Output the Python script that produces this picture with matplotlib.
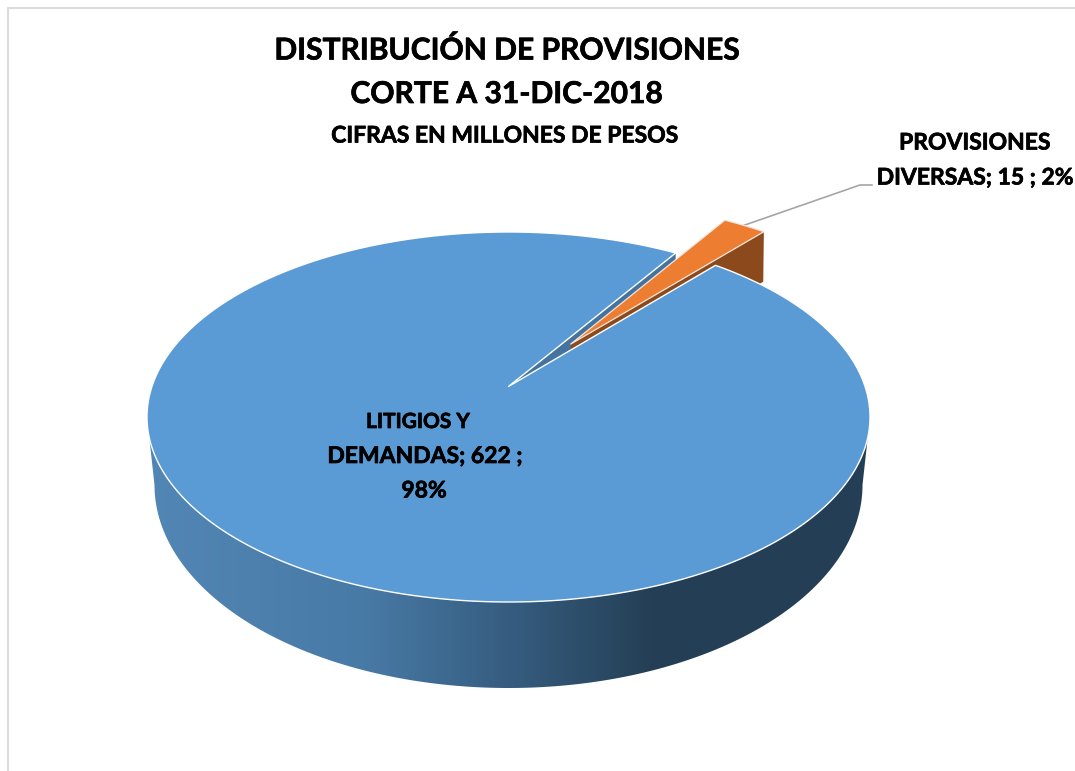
import numpy as np
import matplotlib
matplotlib.use("Agg")
import matplotlib.pyplot as plt
import matplotlib.patheffects as pe
from matplotlib.colors import LinearSegmentedColormap
from matplotlib.patches import Polygon

# ---- data ----
categories = ["LITIGIOS Y DEMANDAS", "PROVISIONES DIVERSAS"]
values = [622, 15]
percent_labels = ["98%", "2%"]
title_lines = ["DISTRIBUCIÓN DE PROVISIONES", "CORTE A 31-DIC-2018"]
subtitle = "CIFRAS EN MILLONES DE PESOS"

# ---- style / view geometry ----
FONT = "Lato"
BLUE, BLUE_WALL = "#5b9bd5", "#44739f"
ORANGE, BROWN = "#ed7d31", "#8c4a1c"
START_DEG = 32.3          # clockwise from the back of the pie
EXPLODE = 0.305
TOP = dict(cx=508.5, cy=417.0, rx=361.5, ry=185.0, e=0.165)
BOT = dict(cx=508.5, cy=485.0, rx=354.0, ry=203.0, e=0.147)

fig = plt.figure(figsize=(10.75, 7.71), dpi=100, facecolor="white")
ax = fig.add_axes([0, 0, 1, 1])


def project(X, Y, g):
    """Perspective view of a point of the unit disc onto the screen ellipse g."""
    X, Y = np.asarray(X, float), np.asarray(Y, float)
    d = 1 + g["e"] * Y
    u = X * np.sqrt(1 - g["e"] ** 2) / d
    v = (Y + g["e"]) / d
    return g["cx"] + g["rx"] * u, g["cy"] - g["ry"] * v


def pts(X, Y, g):
    x, y = project(X, Y, g)
    return np.column_stack([np.atleast_1d(x), np.atleast_1d(y)])


def arc(a0, a1, n=300):
    t = np.radians(np.linspace(a0, a1, n))
    return np.sin(t), np.cos(t)


total = sum(values)
sweep = [360 * v / total for v in values]
a_small0 = START_DEG
a_small1 = START_DEG + sweep[1]
a_mid = np.radians((a_small0 + a_small1) / 2)
ox, oy = EXPLODE * np.sin(a_mid), EXPLODE * np.cos(a_mid)


def ellipse_front(g, a, b, n=400):
    t = np.radians(np.linspace(a, b, n))
    return np.column_stack([g["cx"] + g["rx"] * np.cos(t), g["cy"] + g["ry"] * np.sin(t)])


# curved front wall with horizontal shading, clipped to the pie outline
wall_outline = np.vstack([ellipse_front(TOP, 180, 0), ellipse_front(BOT, 0, 180)])
wall_patch = Polygon(wall_outline, closed=True, fc="none", ec="none")
ax.add_patch(wall_patch)
cmap = LinearSegmentedColormap.from_list(
    "wall",
    [(0.00, "#5286b4"), (0.30, "#487aa6"), (0.52, "#345a7c"), (0.70, "#243f55"), (1.00, "#243f55")],
)
grad = np.linspace(0, 1, 512)[None, :]
im = ax.imshow(grad, cmap=cmap, extent=(147, 870, 700, 400), aspect="auto", zorder=1,
               interpolation="bilinear")
im.set_clip_path(wall_patch)

# cut face of the large slice, seen through the gap
ex0, ey0 = arc(a_small0, a_small0, 1)
face = np.vstack([pts(0, 0, TOP), pts(ex0, ey0, TOP), pts(ex0, ey0, BOT), pts(0, 0, BOT)])
ax.add_patch(Polygon(face, closed=True, fc=BLUE_WALL, ec="none", zorder=2))

# leader line
ax.plot([742, 860, 872], [226, 185, 185], color="#a6a6a6", lw=1.2, zorder=2.5)

# exploded small slice: side wall and top
ex1, ey1 = arc(a_small1, a_small1, 1)
side = np.vstack([pts(ox, oy, TOP), pts(ex1 + ox, ey1 + oy, TOP),
                  pts(ex1 + ox, ey1 + oy, BOT), pts(ox, oy, BOT)])
ax.add_patch(Polygon(side, closed=True, fc=BROWN, ec="none", zorder=3))
ax_, ay_ = arc(a_small0, a_small1, 40)
small_top = np.vstack([pts(ox, oy, TOP), pts(ax_ + ox, ay_ + oy, TOP)])
ax.add_patch(Polygon(small_top, closed=True, fc=ORANGE, ec="#f4e6dc", lw=0.9,
                     joinstyle="round", zorder=4))

# top of the large slice
bx, by = arc(a_small1, a_small0 + 360, 700)
main_top = np.vstack([pts(0, 0, TOP), pts(bx, by, TOP)])
ax.add_patch(Polygon(main_top, closed=True, fc=BLUE, ec="white", lw=1.0,
                     joinstyle="round", zorder=5))

# frame fragments of the screenshot
ax.plot([8, 8, 1075], [771, 8, 8], color="#dcdcdc", lw=1.5, zorder=0)

# texts
bold = [pe.withStroke(linewidth=0.5, foreground="black")]
tkw = dict(family=FONT, weight="bold", color="black", ha="center", va="center",
           zorder=6, path_effects=bold)
ax.text(506.5, 50, title_lines[0], fontsize=21.6, **tkw)
ax.text(506.5, 94, title_lines[1], fontsize=21.6, **tkw)
ax.text(505, 136, subtitle, fontsize=16.5, **tkw)

w0 = categories[0].split(" ")
ax.text(418, 422, " ".join(w0[:2]), fontsize=15, **tkw)
ax.text(425, 456.5, f"{w0[2]}; {values[0]} ;", fontsize=16.5, **tkw)
ax.text(424, 491, percent_labels[0], fontsize=16.5, **tkw)
w1 = categories[1].split(" ")
ax.text(975, 143, w1[0], fontsize=16.5, **tkw)
ax.text(975, 178, f"{w1[1]}; {values[1]} ; {percent_labels[1]}", fontsize=16.5, **tkw)

ax.set_xlim(0, 1075)
ax.set_ylim(771, 0)
ax.axis("off")
fig.savefig("out.png", dpi=100)
